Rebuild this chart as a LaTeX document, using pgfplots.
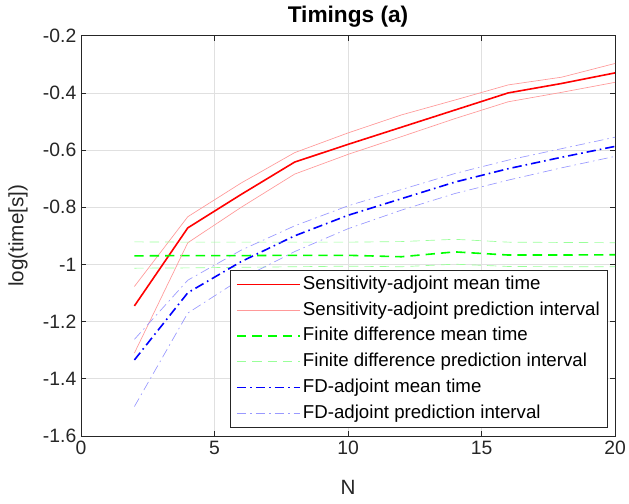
\documentclass[border=0pt]{standalone}
\usepackage{fontspec}
\setmainfont{Liberation Sans}
\usepackage{pgfplots}
\pgfplotsset{compat=1.18}
\definecolor{lred}{rgb}{1,0.6,0.6}
\definecolor{lgreen}{rgb}{0.6,1,0.6}
\definecolor{lblue}{rgb}{0.6,0.6,1}
\definecolor{axgray}{rgb}{0.15,0.15,0.15}
\definecolor{gridgray}{rgb}{0.88,0.88,0.88}
\begin{document}
\begin{tikzpicture}
\begin{axis}[
  scale only axis, width=400.5pt, height=300.2pt,
  xmin=0, xmax=20, ymin=-1.6, ymax=-0.2,
  xtick={0,5,10,15,20},
  ytick={-1.6,-1.4,-1.2,-1,-0.8,-0.6,-0.4,-0.2},
  yticklabels={-1.6,-1.4,-1.2,-1,-0.8,-0.6,-0.4,-0.2},
  tick align=inside, major tick length=4pt,
  grid=major, major grid style={gridgray, line width=0.5pt},
  axis line style={axgray, line width=0.5pt},
  tick style={axgray, line width=0.5pt},
  ticklabel style={font=\fontsize{14.5}{16}\selectfont, text=axgray},
  /pgf/number format/assume math mode=true,
  xlabel={N}, ylabel={log(time[s])},
  label style={font=\fontsize{15.5}{18}\selectfont, text=axgray},
  xlabel style={at={(axis description cs:0.5,-0.1275)}, anchor=center},
  ylabel style={at={(axis description cs:-0.118,0.5)}, anchor=center},
  title={Timings (a)},
  every axis title shift=0pt,
  title style={font=\bfseries\fontsize{17}{20}\selectfont, at={(axis description cs:0.5,1.0475)}, anchor=center},
  legend cell align=left,
  legend style={at={(0.987,0.02)}, anchor=south east, draw=axgray, line width=0.5pt,
    font=\fontsize{14}{16}\selectfont, row sep=1.6pt, inner xsep=4pt, inner ysep=2pt,
    nodes={inner sep=2pt, text height=10.5pt, text depth=3.2pt}},
  legend image code/.code={\draw[#1] (0pt,0pt) -- (47pt,0pt);},
]
% Sensitivity-adjoint
\addplot[draw=red, line width=1.2pt] coordinates {
 (2,-1.145) (4,-0.872) (6,-0.755) (8,-0.642) (10,-0.580) (12,-0.520) (14,-0.460) (16,-0.400) (18,-0.367) (20,-0.330)};
\addlegendentry{Sensitivity-adjoint mean time}
\addplot[draw=lred, line width=0.5pt] coordinates {
 (2,-1.077) (4,-0.833) (6,-0.715) (8,-0.609) (10,-0.540) (12,-0.477) (14,-0.425) (16,-0.372) (18,-0.345) (20,-0.297)};
\addlegendentry{Sensitivity-adjoint prediction interval}
% Finite difference
\addplot[draw=green, line width=1.2pt, dash pattern=on 7pt off 4.5pt] coordinates {
 (2,-0.970) (4,-0.969) (6,-0.969) (8,-0.968) (10,-0.968) (12,-0.973) (14,-0.956) (16,-0.967) (18,-0.967) (20,-0.966)};
\addlegendentry{Finite difference mean time}
\addplot[draw=lgreen, line width=0.5pt, dash pattern=on 7pt off 4.5pt] coordinates {
 (2,-1.013) (4,-1.012) (6,-1.010) (8,-1.008) (10,-1.006) (12,-1.008) (14,-0.999) (16,-1.007) (18,-1.008) (20,-1.008)};
\addlegendentry{Finite difference prediction interval}
% FD-adjoint
\addplot[draw=blue, line width=1.2pt, dash pattern=on 7pt off 3pt on 1.2pt off 3pt] coordinates {
 (2,-1.334) (4,-1.099) (6,-0.990) (8,-0.900) (10,-0.828) (12,-0.770) (14,-0.712) (16,-0.665) (18,-0.625) (20,-0.587)};
\addlegendentry{FD-adjoint mean time}
\addplot[draw=lblue, line width=0.5pt, dash pattern=on 7pt off 3pt on 1.2pt off 3pt] coordinates {
 (2,-1.497) (4,-1.170) (6,-1.050) (8,-0.955) (10,-0.875) (12,-0.810) (14,-0.752) (16,-0.705) (18,-0.662) (20,-0.622)};
\addlegendentry{FD-adjoint prediction interval}
% remaining interval bounds (not in legend)
\addplot[draw=lred, line width=0.5pt, forget plot] coordinates {
 (2,-1.310) (4,-0.924) (6,-0.800) (8,-0.684) (10,-0.615) (12,-0.553) (14,-0.490) (16,-0.431) (18,-0.398) (20,-0.363)};
\addplot[draw=lgreen, line width=0.5pt, dash pattern=on 7pt off 4.5pt, forget plot] coordinates {
 (2,-0.921) (4,-0.922) (6,-0.922) (8,-0.922) (10,-0.922) (12,-0.920) (14,-0.912) (16,-0.922) (18,-0.923) (20,-0.924)};
\addplot[draw=lblue, line width=0.5pt, dash pattern=on 7pt off 3pt on 1.2pt off 3pt, forget plot] coordinates {
 (2,-1.262) (4,-1.055) (6,-0.950) (8,-0.865) (10,-0.795) (12,-0.738) (14,-0.682) (16,-0.635) (18,-0.595) (20,-0.555)};
\end{axis}
\pgfresetboundingbox
\path (current axis.south west) ++(-60.75pt,-50.25pt) coordinate (bbA);
\path (current axis.north east) ++(10.5pt,26.8pt) coordinate (bbB);
\path[use as bounding box] (bbA) rectangle (bbB);
\end{tikzpicture}
\end{document}
